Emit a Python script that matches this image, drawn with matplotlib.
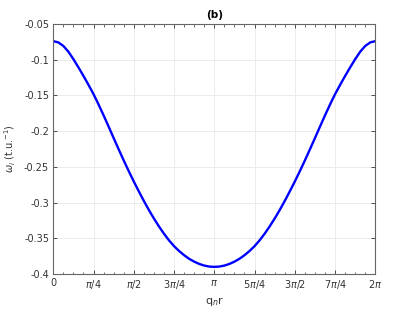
import numpy as np
import matplotlib
matplotlib.use("Agg")
import matplotlib.pyplot as plt
from matplotlib.ticker import MultipleLocator

# samples every pi/32 from 0 to 2*pi
qr_steps = list(range(65))
omega_i = [-0.0740, -0.0757, -0.0807, -0.0887, -0.0992, -0.1107, -0.1227, -0.1352,
           -0.1482, -0.1627, -0.1779, -0.1937, -0.2097, -0.2255, -0.2410, -0.2560,
           -0.2705, -0.2843, -0.2977, -0.3104, -0.3223, -0.3334, -0.3436, -0.3529,
           -0.3610, -0.3678, -0.3737, -0.3787, -0.3827, -0.3859, -0.3882, -0.3896,
           -0.3900,
           -0.3896, -0.3882, -0.3859, -0.3827, -0.3787, -0.3737, -0.3678, -0.3610,
           -0.3529, -0.3436, -0.3334, -0.3223, -0.3104, -0.2977, -0.2843, -0.2705,
           -0.2560, -0.2410, -0.2255, -0.2097, -0.1937, -0.1779, -0.1627, -0.1482,
           -0.1352, -0.1227, -0.1107, -0.0992, -0.0887, -0.0807, -0.0757, -0.0740]

xtick_labels = ["0", r"$\pi$/4", r"$\pi$/2", r"3$\pi$/4", r"$\pi$",
                r"5$\pi$/4", r"3$\pi$/2", r"7$\pi$/4", r"2$\pi$"]
yticks = [-0.4, -0.35, -0.3, -0.25, -0.2, -0.15, -0.1, -0.05]
ytick_labels = ["-0.4", "-0.35", "-0.3", "-0.25", "-0.2", "-0.15", "-0.1", "-0.05"]

x = np.array(qr_steps) * np.pi / 32

fig = plt.figure(figsize=(4.15, 3.12), dpi=100)
ax = fig.add_axes([0.1284, 0.1218, 0.776, 0.8012])

ax.plot(x, omega_i, color=(0, 0, 1), lw=1.7, solid_joinstyle="round")

ax.set_xlim(0, 2 * np.pi)
ax.set_ylim(-0.4, -0.05)
ax.set_xticks(np.arange(9) * np.pi / 4)
ax.set_xticklabels(xtick_labels)
ax.xaxis.set_minor_locator(MultipleLocator(np.pi / 16))
ax.set_yticks(yticks)
ax.set_yticklabels(ytick_labels)

ax.grid(True, which="major", color="#ebebeb", lw=0.7)
ax.set_axisbelow(True)
ax.tick_params(which="both", direction="in", top=True, right=True,
               labelsize=7, colors="#333333", pad=3)
ax.tick_params(which="major", length=3, width=0.6)
ax.tick_params(which="minor", length=1.8, width=0.5)
for s in ax.spines.values():
    s.set_color("#666666")
    s.set_linewidth(0.8)

ax.set_title("(b)", fontsize=7.5, fontweight="bold", pad=4)
ax.set_xlabel(r"q$_n$r", fontsize=8, color="#333333", labelpad=3)
ax.set_ylabel(r"$\omega_i$ (t.u.$^{-1}$)", fontsize=7, color="#333333", labelpad=4)

fig.savefig("out.png", dpi=100)
